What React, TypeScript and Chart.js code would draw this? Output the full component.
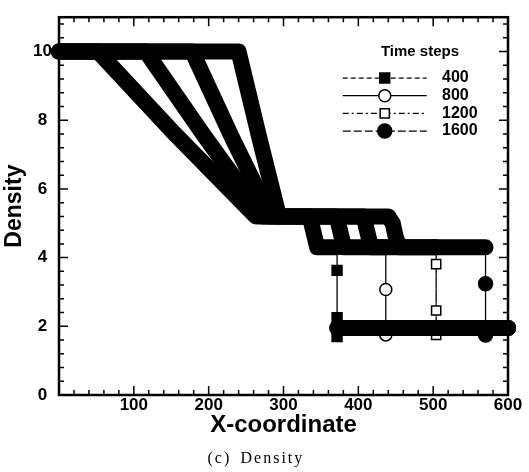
import React, { useEffect, useRef } from 'react';
import { Chart, registerables } from 'chart.js';

Chart.register(...registerables);

// ---- data -------------------------------------------------------------
const timeSteps = ['400', '800', '1200', '1600'];
const legendTitle = 'Time steps';
const xTitle = 'X-coordinate';
const yTitle = 'Density';
const captionTag = '(c)';
const captionText = 'Density';

// left part of each profile: left state, rarefaction fan, plateau, contact, plateau (ends at shock)
const x400 = [0, 240, 267, 294, 335, 340, 345, 371.6];
const rho400 = [10, 10, 7.55, 5.2, 5.2, 4.75, 4.3, 4.3];
const x800 = [0, 178, 230, 283, 371, 376, 381, 436.7];
const rho800 = [10, 10, 7.55, 5.2, 5.2, 4.75, 4.3, 4.3];
const x1200 = [0, 116, 194, 272, 407, 412, 417, 504];
const rho1200 = [10, 10, 7.55, 5.2, 5.2, 4.75, 4.3, 4.3];
const x1600 = [0, 52, 157, 263, 440, 446, 450, 455, 570];
const rho1600 = [10, 10, 7.55, 5.2, 5.2, 5.0, 4.6, 4.3, 4.3];

// densities of the marked points inside each shock
const shock400 = [3.63, 2.25, 1.7];
const shock800 = [3.07, 1.75];
const shock1200 = [3.81, 2.46, 1.75];
const shock1600 = [3.24, 1.75];

const rightDensity = 1.95;
const xMin = 0;
const xMax = 600;
const yMin = 0;
const yMax = 11;
const xMajorStep = 100;
const xMinorStep = 20;
const yMajorStep = 2;
const yMinorStep = 0.4;

// ---- styles -----------------------------------------------------------
const SANS = '"Liberation Sans", Arial, Helvetica, sans-serif';
const SERIF = '"Liberation Serif", "Times New Roman", serif';
const THICK = 16;
const THIN = 1.3;
const dashes: number[][] = [[5, 3], [], [6, 3, 2, 3], [8, 3]];
const pointStyles = ['rect', 'circle', 'rect', 'circle'];
const pointFills = ['#000', '#fff', '#fff', '#000'];
const pointRadii = [7, 6, 6.5, 7];

function buildSeries(xs: number[], rhos: number[], marks: number[]) {
  const pts = xs.map((x, i) => ({ x, y: rhos[i] }));
  const shockX = xs[xs.length - 1];
  const markerIdx = new Set<number>();
  marks.forEach((v) => {
    markerIdx.add(pts.length);
    pts.push({ x: shockX, y: v });
  });
  pts.push({ x: shockX, y: rightDensity });
  pts.push({ x: xMax, y: rightDensity });
  return { pts, markerIdx };
}

const seriesSrc = [
  buildSeries(x400, rho400, shock400),
  buildSeries(x800, rho800, shock800),
  buildSeries(x1200, rho1200, shock1200),
  buildSeries(x1600, rho1600, shock1600),
];

function drawMarker(ctx: CanvasRenderingContext2D, i: number, x: number, y: number) {
  ctx.save();
  ctx.setLineDash([]);
  ctx.lineWidth = 1.5;
  ctx.strokeStyle = '#000';
  ctx.fillStyle = pointFills[i];
  ctx.beginPath();
  if (pointStyles[i] === 'rect') {
    const h = pointRadii[i] * Math.SQRT1_2;
    ctx.rect(x - h, y - h, 2 * h, 2 * h);
  } else {
    ctx.arc(x, y, pointRadii[i], 0, Math.PI * 2);
  }
  ctx.fill();
  ctx.stroke();
  ctx.restore();
}

const framePlugin = {
  id: 'frameTicks',
  beforeDatasetsDraw(chart: any) {
    const { ctx, chartArea, scales } = chart;
    const { left, right, top, bottom } = chartArea;
    const sx = scales.x;
    const sy = scales.y;
    ctx.save();
    ctx.strokeStyle = '#000';
    ctx.lineWidth = 1.5;
    ctx.beginPath();
    const nx = Math.round((xMax - xMin) / xMinorStep);
    for (let i = 0; i <= nx; i++) {
      const v = xMin + i * xMinorStep;
      const px = sx.getPixelForValue(v);
      const major = Math.abs(v / xMajorStep - Math.round(v / xMajorStep)) < 1e-6;
      const len = major ? 9 : 5;
      ctx.moveTo(px, bottom);
      ctx.lineTo(px, bottom - len);
      ctx.moveTo(px, top);
      ctx.lineTo(px, top + len);
    }
    const ny = Math.floor((yMax - yMin) / yMinorStep + 1e-6);
    for (let i = 0; i <= ny; i++) {
      const v = yMin + i * yMinorStep;
      const py = sy.getPixelForValue(v);
      const major = Math.abs(v / yMajorStep - Math.round(v / yMajorStep)) < 1e-6;
      const len = major ? 9 : 5;
      ctx.moveTo(left, py);
      ctx.lineTo(left + len, py);
      ctx.moveTo(right, py);
      ctx.lineTo(right - len, py);
    }
    ctx.stroke();
    ctx.lineWidth = 2.5;
    ctx.strokeRect(left, top, right - left, bottom - top);
    ctx.restore();
  },
};

const legendPlugin = {
  id: 'inlineLegend',
  afterDraw(chart: any) {
    const { ctx, chartArea } = chart;
    const { left, right, top, bottom } = chartArea;
    const w = right - left;
    const h = bottom - top;
    const lx0 = left + w * 0.632;
    const lx1 = left + w * 0.819;
    const mx = (lx0 + lx1) / 2;
    const tx = left + w * 0.853;
    const y0 = top + h * 0.161;
    const dy = h * 0.0468;
    ctx.save();
    ctx.fillStyle = '#000';
    ctx.font = `bold 15px ${SANS}`;
    ctx.textAlign = 'center';
    ctx.textBaseline = 'middle';
    ctx.fillText(legendTitle, left + w * 0.804, top + h * 0.091);
    timeSteps.forEach((label, i) => {
      const y = y0 + i * dy;
      ctx.setLineDash(dashes[i]);
      ctx.lineWidth = THIN;
      ctx.strokeStyle = '#000';
      ctx.beginPath();
      ctx.moveTo(lx0, y);
      ctx.lineTo(lx1, y);
      ctx.stroke();
      ctx.setLineDash([]);
      drawMarker(ctx, i, mx, y);
      ctx.fillStyle = '#000';
      ctx.textAlign = 'left';
      ctx.font = `bold 16px ${SANS}`;
      ctx.fillText(label, tx, y);
    });
    ctx.restore();
  },
};

const captionPlugin = {
  id: 'caption',
  afterDraw(chart: any) {
    const { ctx, chartArea } = chart;
    const cx = (chartArea.left + chartArea.right) / 2;
    ctx.save();
    ctx.fillStyle = '#000';
    ctx.font = `16px ${SERIF}`;
    (ctx as any).letterSpacing = '2px';
    ctx.textAlign = 'left';
    ctx.textBaseline = 'alphabetic';
    ctx.fillText(captionTag, cx - 76, 463);
    ctx.fillText(captionText, cx - 43, 463);
    ctx.restore();
  },
};

export default function App() {
  const canvasRef = useRef<HTMLCanvasElement | null>(null);

  useEffect(() => {
    const canvas = canvasRef.current;
    if (!canvas) return;
    const datasets = seriesSrc.map((s, i) => ({
      label: timeSteps[i],
      data: s.pts,
      borderColor: '#000',
      backgroundColor: '#000',
      borderWidth: THICK,
      borderCapStyle: 'round' as const,
      borderJoinStyle: 'round' as const,
      tension: 0,
      fill: false,
      clip: false as const,
      pointStyle: pointStyles[i] as any,
      pointRadius: (c: any) => (s.markerIdx.has(c.dataIndex) ? pointRadii[i] : 0),
      pointHoverRadius: 0,
      pointBackgroundColor: pointFills[i],
      pointBorderColor: '#000',
      pointBorderWidth: 1.5,
      segment: {
        borderWidth: (c: any) => (c.p0.parsed.x === c.p1.parsed.x ? THIN : THICK),
        borderDash: (c: any) => (c.p0.parsed.x === c.p1.parsed.x ? dashes[i] : []),
      },
    }));

    const chart = new Chart(canvas, {
      type: 'line',
      data: { datasets },
      plugins: [framePlugin, legendPlugin, captionPlugin],
      options: {
        responsive: false,
        animation: false,
        events: [],
        layout: { padding: { top: 10, right: 21, left: 0, bottom: 0 } },
        plugins: {
          legend: { display: false },
          tooltip: { enabled: false },
          title: { display: false },
        },
        scales: {
          x: {
            type: 'linear',
            min: xMin,
            max: xMax,
            grid: { display: false, drawTicks: false },
            border: { display: false },
            ticks: {
              stepSize: xMajorStep,
              autoSkip: false,
              maxRotation: 0,
              padding: 0,
              color: '#000',
              font: { family: SANS, size: 17, weight: 'bold' },
              callback: (v: any) => (Number(v) === 0 ? '' : String(v)),
            },
            title: {
              display: true,
              text: xTitle,
              color: '#000',
              font: { family: SANS, size: 24, weight: 'bold' },
              padding: { top: 0, bottom: 32 },
            },
            afterFit: (s: any) => {
              s.height = 77;
            },
          },
          y: {
            type: 'linear',
            min: yMin,
            max: yMax,
            grid: { display: false, drawTicks: false },
            border: { display: false },
            ticks: {
              stepSize: yMajorStep,
              crossAlign: 'center',
              padding: 7,
              color: '#000',
              font: { family: SANS, size: 17, weight: 'bold' },
              callback: (v: any) => (Number(v) % yMajorStep === 0 ? String(v) : ''),
            },
            title: {
              display: true,
              text: yTitle,
              color: '#000',
              font: { family: SANS, size: 23, weight: 'bold' },
              padding: { top: 1, bottom: 0 },
            },
            afterFit: (s: any) => {
              s.width = 59;
            },
          },
        },
      } as any,
    });
    return () => chart.destroy();
  }, []);

  return (
    <div style={{ position: 'absolute', left: 0, top: 0, width: 529, height: 472, background: '#fff' }}>
      <canvas ref={canvasRef} width={529} height={472} style={{ display: 'block' }} />
    </div>
  );
}
